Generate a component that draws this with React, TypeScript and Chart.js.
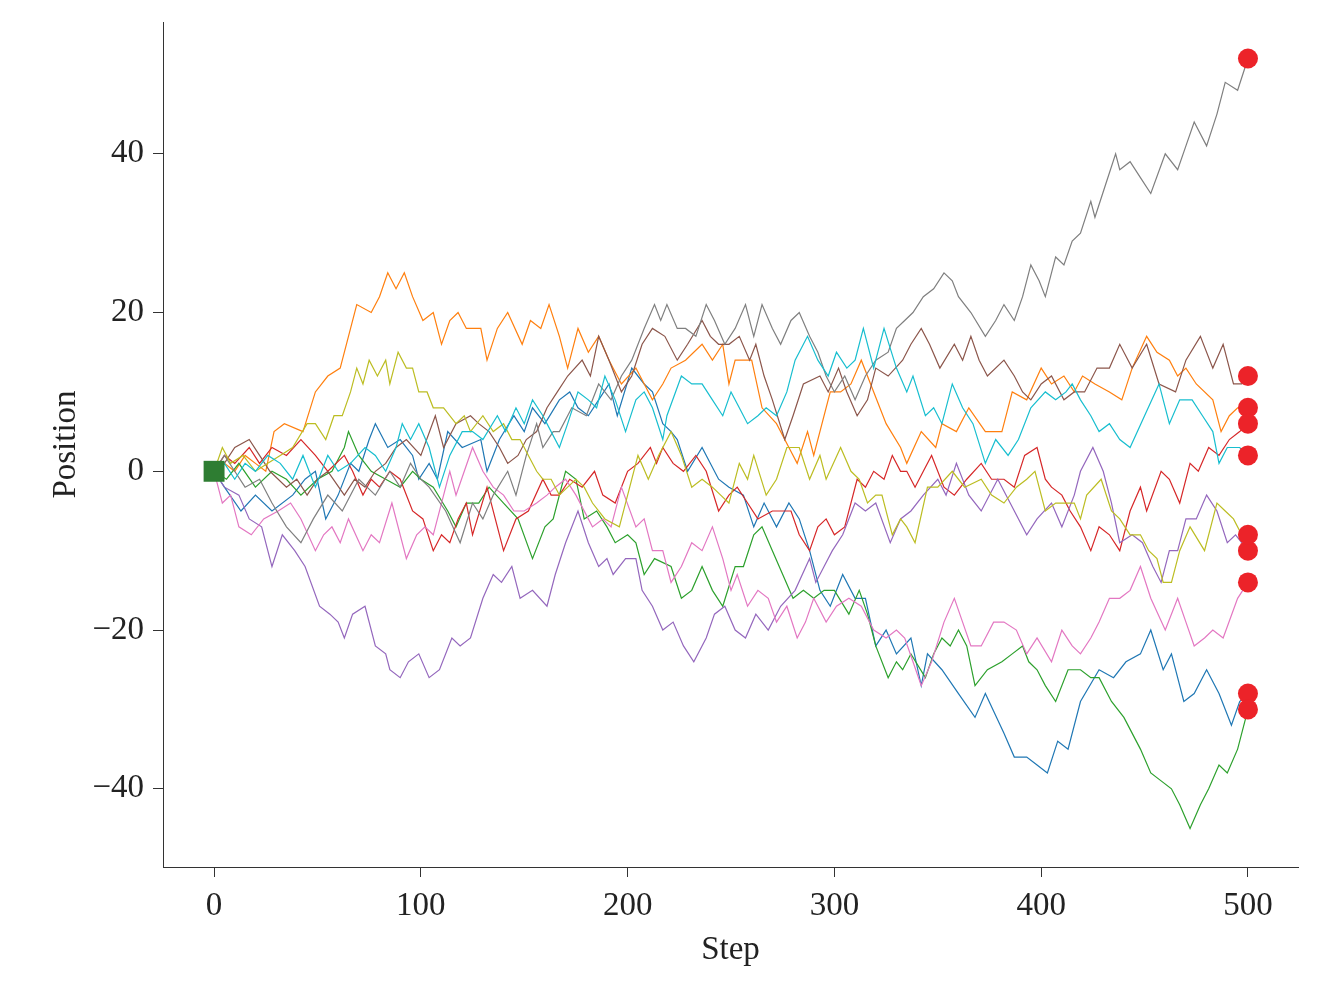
import React, { useEffect, useRef } from 'react';
import { Chart, registerables } from 'chart.js';

Chart.register(...registerables);

const xTicks = [0, 100, 200, 300, 400, 500];
const yTicks = [-40, -20, 0, 20, 40];
const xLabel = 'Step';
const yLabel = 'Position';

const blueWalk = [[0,0],[5,-2],[13,-5],[20,-3],[28,-5],[38,-3],[44,-1],[49,0],[54,-6],[60,-3],[66,1],[70,0],[75,4],[78,6],[84,3],[90,4],[96,2],[99,-1],[104,1],[108,-1],[113,5],[120,3],[129,4],[132,0],[138,4],[145,7],[150,5],[154,8],[160,6],[167,9],[172,10],[176,8],[181,7],[186,9],[191,11],[195,7],[202,13],[208,11],[212,10],[217,6],[221,5],[224,4],[229,0],[236,3],[244,-1],[249,-2],[256,-3],[261,-7],[266,-4],[272,-7],[278,-4],[283,-6],[288,-10],[293,-15],[298,-17],[304,-13],[310,-16],[315,-16],[320,-22],[325,-20],[330,-23],[337,-21],[342,-27],[345,-23],[352,-25],[360,-28],[368,-31],[373,-28],[382,-33],[387,-36],[393,-36],[398,-37],[403,-38],[408,-34],[413,-35],[419,-29],[428,-25],[435,-26],[441,-24],[448,-23],[453,-20],[459,-25],[463,-23],[469,-29],[474,-28],[480,-25],[486,-28],[492,-32],[496,-29],[500,-28]];

const orangeWalk = [[0,0],[5,1],[10,0],[15,2],[20,1],[25,0],[29,5],[34,6],[43,5],[49,10],[55,12],[61,13],[65,17],[69,21],[76,20],[80,22],[84,25],[88,23],[92,25],[96,22],[101,19],[106,20],[110,16],[114,19],[118,20],[122,18],[129,18],[132,14],[137,18],[142,20],[149,16],[153,19],[158,18],[162,21],[167,17],[171,13],[176,18],[181,15],[186,17],[191,14],[197,11],[204,13],[212,9],[217,11],[221,13],[228,14],[236,16],[241,14],[246,16],[249,11],[252,14],[260,14],[265,8],[272,6],[278,3],[282,1],[287,5],[290,2],[298,10],[303,10],[308,11],[313,14],[319,10],[325,6],[332,3],[335,1],[342,5],[349,3],[352,6],[359,5],[365,8],[373,5],[381,5],[386,10],[393,9],[400,13],[405,11],[411,12],[416,10],[420,12],[426,11],[433,10],[439,9],[444,13],[451,17],[456,15],[462,14],[466,12],[470,13],[475,11],[483,9],[487,5],[491,7],[495,8],[500,8]];

const greenWalk = [[0,0],[6,-1],[12,1],[20,-2],[28,0],[35,-1],[42,-3],[50,-1],[57,0],[63,3],[65,5],[70,2],[76,0],[83,-1],[90,-2],[96,0],[100,-1],[106,-2],[113,-5],[117,-7],[122,-4],[128,-4],[133,-2],[140,-4],[147,-6],[154,-11],[160,-7],[164,-6],[170,0],[175,-1],[179,-6],[185,-5],[190,-7],[194,-9],[200,-8],[204,-9],[208,-13],[213,-11],[221,-12],[226,-16],[231,-15],[236,-12],[241,-15],[246,-17],[252,-12],[256,-12],[261,-8],[265,-7],[270,-10],[275,-13],[280,-16],[285,-15],[290,-16],[295,-15],[300,-15],[307,-18],[312,-15],[316,-18],[320,-22],[326,-26],[330,-24],[333,-25],[337,-23],[344,-26],[348,-23],[352,-21],[356,-22],[360,-20],[364,-22],[368,-27],[374,-25],[381,-24],[386,-23],[391,-22],[394,-24],[398,-25],[402,-27],[407,-29],[413,-25],[419,-25],[424,-26],[428,-26],[434,-29],[440,-31],[448,-35],[453,-38],[458,-39],[463,-40],[467,-42],[472,-45],[477,-42],[481,-40],[486,-37],[490,-38],[495,-35],[500,-30]];

const redWalk = [[0,0],[5,2],[10,1],[17,3],[22,1],[28,3],[35,2],[42,4],[49,2],[55,0],[63,2],[67,0],[72,-3],[76,-1],[80,-2],[85,0],[90,-1],[96,-5],[101,-6],[106,-10],[110,-8],[114,-9],[118,-6],[122,-4],[125,-8],[132,-2],[136,-6],[140,-10],[146,-6],[152,-5],[159,-1],[163,-3],[167,-3],[172,-1],[178,-2],[184,0],[188,-3],[194,-4],[200,0],[205,1],[211,3],[214,1],[217,3],[222,1],[227,0],[233,2],[238,0],[244,-5],[249,-3],[253,-2],[258,-4],[263,-6],[270,-5],[279,-5],[283,-8],[288,-10],[292,-7],[296,-6],[300,-8],[305,-7],[311,-1],[315,-2],[319,0],[324,-1],[328,2],[332,0],[335,0],[339,-2],[343,0],[347,2],[353,-2],[358,-3],[364,-1],[371,1],[376,-1],[382,-1],[387,-2],[392,2],[398,3],[402,-1],[405,-2],[410,-3],[414,-5],[419,-7],[424,-10],[428,-7],[433,-8],[438,-10],[443,-5],[448,-2],[451,-5],[458,0],[462,-1],[467,-4],[472,1],[476,0],[481,3],[486,2],[491,4],[496,5],[500,6]];

const purpleWalk = [[0,0],[5,-2],[12,-3],[17,-6],[23,-7],[28,-12],[33,-8],[39,-10],[44,-12],[51,-17],[56,-18],[60,-19],[63,-21],[67,-18],[73,-17],[78,-22],[83,-23],[85,-25],[90,-26],[94,-24],[99,-23],[104,-26],[109,-25],[115,-21],[119,-22],[124,-21],[130,-16],[135,-13],[139,-14],[144,-12],[148,-16],[154,-15],[161,-17],[165,-13],[170,-9],[176,-5],[181,-9],[186,-12],[190,-11],[193,-13],[199,-11],[204,-11],[207,-15],[212,-17],[217,-20],[222,-19],[227,-22],[232,-24],[238,-21],[242,-18],[247,-17],[252,-20],[257,-21],[262,-18],[268,-20],[274,-17],[281,-15],[288,-11],[291,-14],[295,-12],[299,-10],[304,-8],[310,-4],[315,-5],[320,-4],[327,-9],[332,-6],[337,-5],[343,-3],[350,-1],[354,-3],[359,1],[365,-3],[371,-5],[379,-1],[385,-4],[393,-8],[398,-6],[405,-4],[410,-7],[416,-3],[419,0],[425,3],[430,0],[434,-4],[438,-9],[444,-8],[449,-9],[454,-12],[458,-14],[462,-10],[466,-10],[470,-6],[475,-6],[480,-3],[485,-5],[490,-9],[494,-8],[500,-10]];

const brownWalk = [[0,0],[5,1],[10,3],[17,4],[22,2],[27,0],[35,-2],[40,-1],[45,-3],[50,-1],[55,0],[63,-3],[68,-1],[73,-2],[78,0],[83,1],[88,3],[93,4],[100,2],[107,7],[111,3],[117,6],[124,7],[128,6],[133,5],[138,3],[142,1],[147,2],[151,4],[156,5],[161,8],[166,10],[171,12],[178,14],[182,12],[186,17],[191,14],[197,10],[202,12],[207,16],[212,18],[218,17],[224,14],[229,16],[236,19],[240,17],[244,16],[249,16],[254,17],[259,14],[262,16],[266,12],[270,9],[276,4],[280,7],[285,11],[293,12],[297,10],[302,13],[306,10],[311,7],[316,9],[320,13],[326,12],[333,14],[337,16],[342,18],[346,16],[351,13],[358,16],[362,14],[366,17],[370,14],[374,12],[382,14],[387,12],[391,10],[395,9],[400,11],[405,12],[411,9],[416,10],[421,10],[427,13],[433,13],[438,16],[444,13],[451,16],[457,11],[465,10],[470,14],[477,17],[483,13],[488,16],[493,11],[497,11],[500,12]];

const pinkWalk = [[0,0],[4,-4],[8,-3],[12,-7],[18,-8],[24,-6],[31,-5],[37,-4],[42,-6],[49,-10],[53,-8],[57,-7],[61,-9],[65,-6],[72,-10],[76,-8],[80,-9],[86,-4],[93,-11],[98,-8],[102,-7],[106,-8],[114,0],[117,-3],[121,0],[125,3],[130,0],[135,-2],[140,-3],[145,-5],[150,-5],[156,-4],[161,-3],[165,-2],[170,-1],[175,-3],[183,-7],[188,-6],[192,-7],[197,-2],[204,-7],[208,-6],[212,-10],[217,-10],[221,-14],[226,-12],[231,-9],[236,-10],[241,-7],[246,-11],[250,-15],[253,-13],[258,-17],[263,-15],[268,-16],[272,-19],[277,-17],[282,-21],[286,-19],[290,-16],[296,-19],[301,-17],[307,-16],[313,-17],[319,-20],[325,-21],[330,-20],[334,-21],[338,-24],[342,-27],[347,-24],[353,-19],[358,-16],[362,-19],[366,-22],[371,-22],[377,-19],[382,-19],[388,-20],[393,-23],[398,-21],[405,-24],[410,-20],[415,-22],[419,-23],[424,-21],[428,-19],[433,-16],[438,-16],[443,-15],[448,-12],[453,-16],[460,-20],[466,-16],[470,-19],[474,-22],[479,-21],[483,-20],[488,-21],[495,-16],[500,-14]];

const grayWalk = [[0,0],[5,2],[10,0],[15,-2],[22,-1],[28,-4],[35,-7],[42,-9],[48,-6],[55,-3],[62,-5],[70,-1],[78,-3],[85,0],[90,-2],[95,1],[100,-1],[104,-2],[112,-5],[119,-9],[125,-4],[130,-6],[135,-3],[142,0],[146,-3],[151,2],[156,6],[159,3],[164,5],[167,5],[173,8],[180,7],[186,11],[192,9],[197,12],[202,14],[208,18],[213,21],[216,19],[219,21],[224,18],[228,18],[233,17],[238,21],[242,19],[247,16],[252,18],[257,21],[261,17],[265,21],[270,18],[274,16],[279,19],[283,20],[288,17],[292,15],[296,12],[300,10],[305,12],[310,9],[315,12],[320,14],[326,15],[330,18],[334,19],[338,20],[343,22],[348,23],[353,25],[357,24],[360,22],[366,20],[373,17],[378,19],[382,21],[387,19],[391,22],[395,26],[399,24],[402,22],[407,27],[411,26],[415,29],[419,30],[424,34],[426,32],[431,36],[436,40],[438,38],[443,39],[448,37],[453,35],[460,40],[466,38],[470,41],[474,44],[480,41],[485,45],[489,49],[495,48],[500,52]];

const oliveWalk = [[0,0],[4,3],[8,1],[14,2],[20,0],[26,1],[32,2],[38,3],[45,6],[49,6],[54,4],[58,7],[62,7],[66,10],[69,13],[72,11],[75,14],[79,12],[83,14],[85,11],[89,15],[93,13],[96,13],[99,10],[103,10],[106,8],[111,8],[117,6],[121,7],[124,5],[130,7],[135,5],[140,6],[144,4],[148,4],[152,2],[156,0],[159,-1],[163,-1],[167,-3],[171,-2],[175,-1],[179,-2],[183,-4],[189,-6],[196,-7],[200,-3],[205,2],[210,-1],[215,2],[221,5],[226,2],[231,-2],[236,-1],[241,-2],[245,-3],[249,-4],[254,1],[258,-1],[261,2],[267,-3],[272,-1],[277,3],[283,3],[288,-1],[293,2],[296,-1],[303,3],[308,0],[312,-1],[316,-4],[320,-3],[323,-3],[328,-8],[332,-6],[335,-7],[339,-9],[345,-2],[350,-2],[357,0],[363,-2],[371,-1],[376,-3],[382,-4],[388,-2],[393,-1],[397,0],[402,-5],[407,-4],[412,-4],[416,-4],[419,-6],[422,-3],[429,-1],[434,-5],[438,-6],[443,-8],[448,-8],[452,-10],[456,-11],[459,-14],[463,-14],[467,-10],[472,-7],[479,-10],[485,-4],[489,-5],[493,-6],[497,-8],[500,-8]];

const cyanWalk = [[0,0],[5,1],[10,-1],[15,1],[20,0],[26,2],[32,1],[38,-1],[43,2],[49,-2],[55,2],[60,0],[66,1],[73,3],[78,2],[83,0],[88,3],[91,6],[95,4],[99,6],[104,3],[109,-2],[114,2],[120,5],[125,5],[130,4],[137,7],[141,5],[146,8],[150,6],[154,9],[159,7],[163,5],[167,3],[171,6],[176,10],[181,9],[185,8],[189,12],[194,9],[199,5],[204,9],[208,10],[212,8],[217,4],[219,7],[226,12],[231,11],[236,11],[241,9],[246,7],[250,10],[254,8],[258,6],[263,7],[267,8],[272,7],[277,10],[281,14],[287,17],[292,14],[297,12],[301,15],[306,13],[310,14],[314,18],[319,13],[324,18],[330,13],[335,10],[338,12],[344,7],[348,8],[352,6],[357,11],[362,8],[367,6],[373,1],[378,4],[384,2],[389,4],[395,8],[402,10],[407,9],[412,10],[415,11],[419,9],[424,7],[428,5],[433,6],[438,4],[443,3],[450,7],[457,11],[462,6],[467,9],[473,9],[478,7],[483,5],[486,1],[490,3],[496,3],[500,2]];

const walks = [blueWalk, orangeWalk, greenWalk, redWalk, purpleWalk, brownWalk, pinkWalk, grayWalk, oliveWalk, cyanWalk];
const walkColors = ['#1f77b4', '#ff7f0e', '#2ca02c', '#d62728', '#9467bd', '#8c564b', '#e377c2', '#7f7f7f', '#bcbd22', '#17becf'];
const startPoint = [0, 0];

const FONT = '"Liberation Serif", "Times New Roman", serif';
const INK = '#222222';
const AXIS = '#333333';

export default function App() {
  const ref = useRef<HTMLCanvasElement | null>(null);

  useEffect(() => {
    if (!ref.current) return;
    const lineSets = walks.map((w, i) => ({
      type: 'line' as const,
      data: w.map(([x, y]) => ({ x, y })),
      borderColor: walkColors[i],
      backgroundColor: walkColors[i],
      borderWidth: 1.2,
      pointRadius: 0,
      tension: 0,
      fill: false,
      order: 20 - i,
    }));
    const ends = walks.map((w) => ({ x: w[w.length - 1][0], y: w[w.length - 1][1] }));
    const chart = new Chart(ref.current, {
      type: 'line',
      data: {
        datasets: [
          ...lineSets,
          {
            type: 'scatter' as const,
            data: ends,
            pointRadius: 10,
            pointHoverRadius: 10,
            backgroundColor: '#ec2329',
            borderWidth: 0,
            order: 1,
          },
          {
            type: 'scatter' as const,
            data: [{ x: startPoint[0], y: startPoint[1] }],
            pointStyle: 'rect',
            pointRadius: 14.8,
            pointHoverRadius: 14.8,
            backgroundColor: '#2e7d32',
            borderWidth: 0,
            order: 0,
          },
        ] as any,
      },
      options: {
        responsive: false,
        animation: false,
        events: [],
        layout: { autoPadding: false, padding: { top: 22, right: 34, left: 0, bottom: 0 } },
        plugins: { legend: { display: false }, tooltip: { enabled: false } },
        scales: {
          x: {
            type: 'linear',
            min: -24.7,
            max: 524.2,
            afterBuildTicks: (s: any) => { s.ticks = xTicks.map((v) => ({ value: v })); },
            afterFit: (s: any) => { s.height = 117; s.paddingLeft = 0; s.paddingRight = 0; },
            grid: { display: true, drawOnChartArea: false, drawTicks: true, tickLength: 10, color: AXIS, tickColor: AXIS, lineWidth: 1 },
            border: { display: true, color: AXIS, width: 1 },
            ticks: { color: INK, font: { family: FONT, size: 33 }, padding: 10, maxRotation: 0, autoSkip: false, callback: (v: any) => String(v) },
            title: { display: true, text: xLabel, color: INK, font: { family: FONT, size: 33 }, padding: { top: 0, bottom: 14 } },
          },
          y: {
            type: 'linear',
            min: -49.85,
            max: 56.6,
            afterBuildTicks: (s: any) => { s.ticks = yTicks.map((v) => ({ value: v })); },
            afterFit: (s: any) => { s.width = 163; s.paddingTop = 0; s.paddingBottom = 0; },
            grid: { display: true, drawOnChartArea: false, drawTicks: true, tickLength: 10, color: AXIS, tickColor: AXIS, lineWidth: 1 },
            border: { display: true, color: AXIS, width: 1 },
            ticks: { color: INK, font: { family: FONT, size: 33 }, padding: 9, autoSkip: false, callback: (v: any) => (v < 0 ? '\u2212' + Math.abs(v) : String(v)) },
            title: { display: true, text: yLabel, color: INK, font: { family: FONT, size: 33 }, padding: { top: 47, bottom: 0 } },
          },
        },
      } as any,
    });
    return () => chart.destroy();
  }, []);

  return (
    <div style={{ position: 'absolute', left: 0, top: 0, width: 1332, height: 984, background: '#fff' }}>
      <canvas ref={ref} width={1332} height={984} style={{ display: 'block' }} />
    </div>
  );
}
